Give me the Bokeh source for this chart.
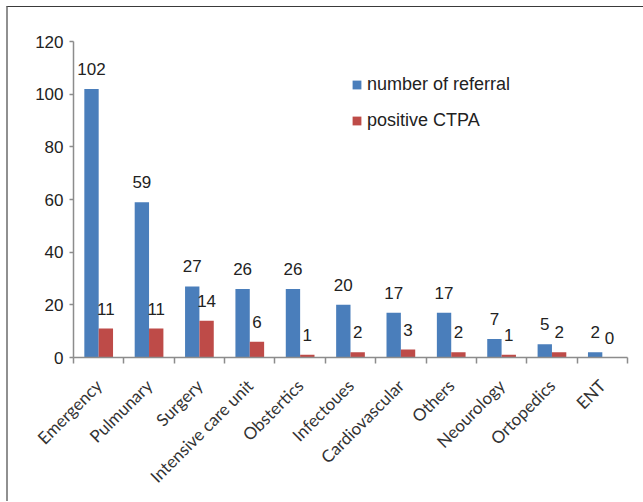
import numpy as np
from math import pi
from bokeh.plotting import figure
from bokeh.core.properties import value
from bokeh.models import (ColumnDataSource, Range1d, FixedTicker, LabelSet,
                          Legend, LegendItem)
from bokeh.embed import file_html
from bokeh.resources import INLINE

categories = ["Emergency", "Pulmunary", "Surgery", "Intensive care unit",
              "Obstertics", "Infectoues", "Cardiovascular", "Others",
              "Neourology", "Ortopedics", "ENT"]
referrals = [102, 59, 27, 26, 26, 20, 17, 17, 7, 5, 2]
positive = [11, 11, 14, 6, 1, 2, 3, 2, 1, 2, 0]
y_ticks = [0, 20, 40, 60, 80, 100, 120]

BLUE = "#4A7EBB"
RED = "#BE4B48"
AXIS = "#8c8c8c"
TEXT = "#222222"

n = len(categories)
centers = np.arange(n) + 0.5
bw = 0.285

src_ref = ColumnDataSource(dict(x=centers - bw / 2, top=referrals,
                                label=[str(v) for v in referrals]))
src_pos = ColumnDataSource(dict(x=centers + bw / 2, top=positive,
                                label=[str(v) for v in positive]))

p = figure(width=635, height=494, x_range=Range1d(0, n), y_range=Range1d(0, 120),
           output_backend="svg", toolbar_location=None,
           min_border_left=65, min_border_right=18, min_border_top=34,
           min_border_bottom=145)
p.styles = {"border-left": "2px solid #909090", "border-top": "1.5px solid #3a3a3a",
            "border-right": "none", "border-bottom": "none",
            "box-sizing": "content-box", "overflow": "hidden",
            "margin-left": "6px", "margin-top": "6px"}
p.outline_line_color = None
p.xgrid.visible = False
p.ygrid.visible = False
p.background_fill_color = "white"
p.border_fill_color = "white"

r1 = p.vbar(x="x", top="top", width=bw, source=src_ref, fill_color=BLUE, line_color=None)
r2 = p.vbar(x="x", top="top", width=bw, source=src_pos, fill_color=RED, line_color=None)

for src in (src_ref, src_pos):
    p.add_layout(LabelSet(x="x", y="top", text="label", source=src,
                          text_align="center", text_baseline="alphabetic",
                          y_offset=14, text_font=value("Liberation Sans"),
                          text_font_size="17px", text_color=TEXT))

xa = p.xaxis[0]
xa.ticker = FixedTicker(ticks=list(centers), minor_ticks=list(range(n + 1)))
xa.major_label_overrides = {float(c): cat for c, cat in zip(centers, categories)}
xa.axis_line_color = AXIS
xa.axis_line_width = 1.5
xa.major_tick_line_color = None
xa.major_tick_out = 0
xa.major_tick_in = 0
xa.minor_tick_line_color = AXIS
xa.minor_tick_line_width = 1.5
xa.minor_tick_out = 6
xa.minor_tick_in = 0
xa.major_label_orientation = pi / 4
xa.major_label_standoff = 19
xa.major_label_text_font = "Lato"
xa.major_label_text_font_size = "17px"
xa.major_label_text_color = "#333333"

ya = p.yaxis[0]
ya.ticker = FixedTicker(ticks=y_ticks)
ya.axis_line_color = AXIS
ya.axis_line_width = 1.5
ya.major_tick_line_color = AXIS
ya.major_tick_line_width = 1.5
ya.major_tick_in = 0
ya.major_tick_out = 4
ya.minor_tick_line_color = None
ya.major_label_standoff = 6
ya.major_label_text_font = "Liberation Sans"
ya.major_label_text_font_size = "17px"
ya.major_label_text_color = TEXT

legend = Legend(items=[LegendItem(label="number of referral", renderers=[r1]),
                       LegendItem(label="positive CTPA", renderers=[r2])],
                location=(278, 226), glyph_width=11, glyph_height=11,
                label_standoff=5, spacing=15, padding=0, margin=0,
                border_line_color=None, background_fill_alpha=0,
                label_text_font="Liberation Sans", label_text_font_size="18px",
                label_text_color=TEXT)
p.add_layout(legend)

open("out.html", "w").write(file_html(p, INLINE))
